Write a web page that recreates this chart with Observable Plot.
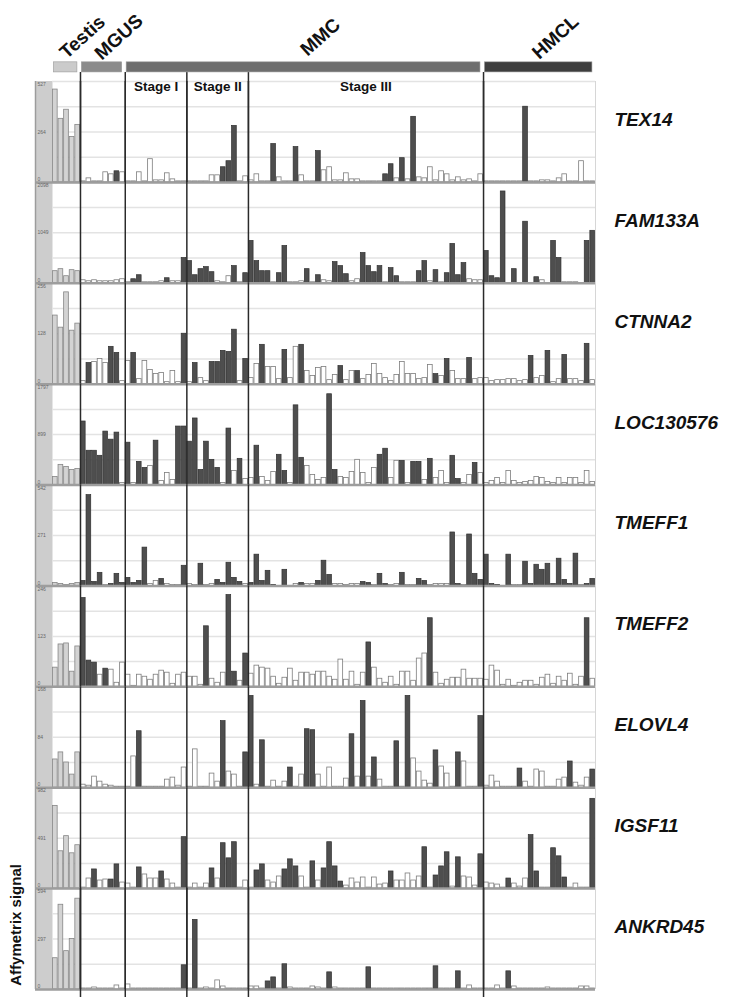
<!DOCTYPE html>
<html><head><meta charset="utf-8">
<script src="https://cdn.jsdelivr.net/npm/d3@7"></script>
<script src="https://cdn.jsdelivr.net/npm/@observablehq/plot@0.6"></script>
<style>body{margin:0;background:#fff;} svg{display:block}</style>
</head><body><div id="chart"></div>
<script>
// ---------- data ----------
const genes = ["TEX14","FAM133A","CTNNA2","LOC130576","TMEFF1","TMEFF2","ELOVL4","IGSF11","ANKRD45"];
const maxSignal = [527, 2098, 256, 1797, 542, 246, 168, 982, 594];
const groupNames = ["Testis","MGUS","Stage I","Stage II","Stage III","HMCL"];
const groupSizes = [5, 8, 11, 11, 42, 20];
const headerNames = ["Testis","MGUS","MMC","HMCL"];
const headerOfGroup = [0, 1, 2, 2, 2, 3];
const stageNames = ["Stage I","Stage II","Stage III"];

// signal of each sample, in % of the panel's maximum signal
const tex14 = [92,63,72,45,57, 1,4,1,1,10,8,11,10, 1,1,10,1,23,2,2,9,3,1,1, 1,1,1,1,7,7,15,21,56,1,6,
  2,8,1,1,38,5,1,1,35,7,1,1,31,12,15,2,2,9,3,3,1,1,1,1, 8,18,4,24,3,65,5,4,15,2,11,8,2,5,2,3,1,8,
  1,1,1,1,1,1,1,75,1,1,2,2,1,4,8,1,1,21,1,1];
const fam133a = [12,14,7,13,12, 3,2,3,2,2,2,3,4, 1,4,8,1,1,1,2,5,2,2,25, 22,8,14,16,11,2,1,7,17,1,10,
  42,22,12,12,1,10,37,1,1,2,14,1,8,3,2,21,17,9,2,4,30,17,11,17, 1,15,7,1,1,1,12,22,2,13,1,10,39,8,20,4,3,3,
  32,7,5,91,0,14,0,61,0,6,3,0,42,25,1,1,1,0,42,52];
const ctnna2 = [68,56,91,53,60, 3,21,22,25,21,37,31,3, 23,31,5,23,14,10,11,2,13,2,50, 2,21,6,3,22,22,33,32,54,3,25,
  6,20,39,17,17,5,34,6,37,39,13,8,16,17,4,9,18,4,13,13,5,9,20,10, 6,3,9,22,10,10,5,6,19,10,8,25,13,5,5,26,5,6,
  6,3,4,4,5,5,3,4,28,6,8,33,2,5,29,5,5,3,40,4];
const loc130576 = [8,20,18,15,16, 63,34,34,29,53,45,52,2, 42,2,23,17,19,44,4,12,5,58,58, 43,66,15,43,25,17,2,56,14,26,6,
  7,39,8,4,13,30,14,2,79,27,19,10,5,7,90,15,8,7,13,25,12,2,17,30, 36,7,24,24,2,23,23,5,26,7,14,2,29,6,2,10,22,12,
  2,4,7,2,14,4,2,3,4,8,7,3,2,7,2,7,7,2,14,3];
const tmeff1 = [3,2,1,2,3, 5,90,4,13,1,2,12,3, 8,3,5,38,2,5,7,2,1,1,20, 2,1,22,1,2,6,3,23,8,4,2,
  3,31,5,15,1,0,16,0,2,3,2,2,5,25,11,2,2,1,2,2,4,3,1,12, 2,1,2,13,1,1,7,5,1,2,2,2,53,2,1,51,12,6,
  31,2,1,0,31,1,1,24,2,21,16,22,2,27,6,2,32,1,2,7];
const tmeff2 = [19,42,43,15,40, 88,26,24,12,18,17,4,24, 12,1,12,10,7,12,16,14,3,12,14, 10,10,2,60,8,4,14,91,15,6,33,
  13,21,19,18,10,3,9,18,6,14,14,12,15,15,10,7,27,7,15,2,14,44,19,8, 4,10,2,15,15,6,28,33,68,14,3,7,9,9,17,8,8,8,
  7,21,16,2,7,1,4,6,6,2,9,12,3,10,6,13,2,10,68,8];
const elovl4 = [28,35,25,13,35, 3,2,11,6,3,2,1,1, 1,31,56,1,1,1,1,8,10,2,20, 1,38,1,1,14,6,66,16,13,1,35,
  91,3,47,1,7,1,6,20,1,13,58,57,13,1,20,1,1,9,53,11,86,11,30,8, 1,1,46,1,91,29,16,7,4,37,21,14,1,35,26,1,1,71,
  2,12,6,1,1,1,19,6,1,18,16,1,1,8,10,26,5,2,10,18];
const igsf11 = [82,37,52,35,43, 1,10,19,8,9,9,24,6, 5,1,21,14,10,10,17,9,5,1,51, 1,5,1,5,20,10,45,30,46,1,8,
  1,18,24,8,6,12,19,29,22,12,1,27,8,20,46,22,7,3,10,6,11,1,11,4, 5,17,8,8,15,8,12,41,1,13,22,36,2,31,12,11,3,34,
  6,5,4,1,10,5,2,10,53,17,1,1,40,32,11,1,5,1,1,89];
const ankrd45 = [31,84,38,50,90, 1,1,2,1,1,1,4,1, 5,1,1,1,1,1,1,1,1,1,24, 1,69,1,2,1,9,3,1,1,1,1,
  3,3,1,8,12,1,25,2,1,1,1,3,2,1,17,2,1,1,1,1,1,22,1,1, 1,1,1,1,1,1,1,1,1,23,1,1,1,18,1,4,1,1,
  1,1,4,1,18,3,1,1,1,1,1,2,1,1,1,1,1,3,3,1];

// samples called "present" (dark bars), by sample index
const tex14Present = [11,30,31,32,39,43,47,59,60,62,64,84];
const fam133aPresent = [14,15,20,23,24,25,26,27,28,32,34,35,36,37,38,40,41,45,47,50,51,52,55,56,57,58,60,61,65,66,68,70,71,72,73,77,78,79,80,82,84,86,89,90,95,96];
const ctnna2Present = [6,10,11,14,23,25,28,29,30,31,32,34,37,41,44,51,54,68,70,74,85,88,91,95];
const loc130576Present = [5,6,7,8,9,10,11,13,15,16,18,22,23,24,25,26,27,28,29,31,33,36,40,41,43,44,49,50,58,59,62,64,65,67,71,72,75];
const tmeff1Present = [5,6,7,8,10,11,12,13,14,15,16,19,23,26,29,30,31,32,33,35,36,37,38,39,41,44,47,48,49,55,56,58,59,62,65,66,71,72,74,75,76,77,78,79,81,84,85,86,87,88,89,90,91,92,93,95,96];
const tmeff2Present = [5,6,7,9,27,31,32,34,56,67,95];
const elovl4Present = [15,30,34,35,37,42,45,46,53,55,57,61,63,68,72,76,83,92,96];
const igsf11Present = [7,10,11,15,19,23,28,30,31,32,36,37,41,42,43,46,48,49,50,51,60,66,68,69,70,72,76,81,85,86,89,90,91,96];
const ankrd45Present = [23,25,38,39,41,49,56,68,72,81];

// ---------- build ----------
const geneValues = [tex14,fam133a,ctnna2,loc130576,tmeff1,tmeff2,elovl4,igsf11,ankrd45];
const genePresent = [tex14Present,fam133aPresent,ctnna2Present,loc130576Present,tmeff1Present,tmeff2Present,elovl4Present,igsf11Present,ankrd45Present];
const sampleGroup = groupSizes.flatMap((n, g) => Array(n).fill(g));
const groupStart = groupSizes.map((_, g) => d3.sum(groupSizes.slice(0, g)));
const groupEnd = groupStart.map((s, g) => s + groupSizes[g]);
const N = d3.sum(groupSizes);
const separators = groupStart.slice(1);
const first = genes[0], last = genes[genes.length - 1];

const rows = genes.flatMap((gene, g) => geneValues[g].map((v, i) => ({
  gene, i, v: v / 100, present: genePresent[g].includes(i), testis: sampleGroup[i] === 0
}))).filter(d => d.v > 0);

const headerFill = ["#cbcbcb", "#8b8b8b", "#6e6e6e", "#3e3e3e"];
const headerRows = headerNames.map((name, h) => {
  const gs = headerOfGroup.map((hh, g) => hh === h ? g : -1).filter(g => g >= 0);
  return {name, h, start: groupStart[gs[0]], end: groupEnd[gs[gs.length - 1]], gene: first};
});
const stageRows = stageNames.map(name => {
  const g = groupNames.indexOf(name);
  return {name, mid: (groupStart[g] + groupEnd[g]) / 2, gene: first};
});
const ticks = genes.map((gene, g) => ({gene, top: String(maxSignal[g]), mid: String(Math.round(maxSignal[g] / 2))}));

const barBase = {x1: "i", x2: d => d.i + 1, y1: 0, y2: "v", fy: "gene", insetLeft: 0.45, insetRight: 0.45};

const chart = Plot.plot({
  width: 734, height: 1008,
  marginTop: 81, marginBottom: 19, marginLeft: 52, marginRight: 139,
  x: {domain: [0, N], axis: null},
  y: {domain: [0, 1], axis: null},
  fy: {domain: genes, axis: null, padding: 0, round: false},
  color: {type: "identity"},
  style: {fontFamily: "Arial, 'Liberation Sans', sans-serif", background: "white", overflow: "visible"},
  marks: [
    // left grey strip holding the signal scale
    Plot.ruleX([0], {dx: -8.5, stroke: "#cdcdcd", strokeWidth: 17}),
    Plot.ruleX([0], {dx: -17, stroke: "#9c9c9c", strokeWidth: 1.5}),
    // gridlines
    Plot.ruleY([0.25, 0.5, 0.75, 1], {x1: 0, x2: N, stroke: "#e3e3e3", strokeWidth: 1.5}),
    Plot.ruleX([N], {stroke: "#d6d6d6", strokeWidth: 1}),
    // bars
    Plot.rect(rows.filter(d => d.testis), {...barBase, fill: "#d3d3d3", stroke: "#868686", strokeWidth: 0.8}),
    Plot.rect(rows.filter(d => !d.testis && !d.present), {...barBase, fill: "white", stroke: "#7d7d7d", strokeWidth: 0.8}),
    Plot.rect(rows.filter(d => !d.testis && d.present), {...barBase, fill: "#4e4e4e", stroke: "#303030", strokeWidth: 0.7}),
    // baseline of each panel
    Plot.ruleY([0], {x1: 0, x2: N, insetLeft: -17, stroke: "#9d9d9d", strokeWidth: 2.5}),
    // group separators
    Plot.ruleX(separators, {stroke: "#2a2a2a", strokeWidth: 1.5}),
    Plot.ruleX(separators, {fy: () => first, insetTop: -9, stroke: "#2a2a2a", strokeWidth: 1.5}),
    Plot.ruleX(separators, {fy: () => last, insetBottom: -8, stroke: "#2a2a2a", strokeWidth: 1.5}),
    // signal tick labels
    Plot.text(ticks, {x: 0, y: 1, dx: -15, dy: 3, fy: "gene", text: "top", textAnchor: "start", fontSize: 5, fill: "#666"}),
    Plot.text(ticks, {x: 0, y: 0.5, dx: -15, fy: "gene", text: "mid", textAnchor: "start", fontSize: 5, fill: "#666"}),
    Plot.text(ticks, {x: 0, y: 0, dx: -15, dy: -3, fy: "gene", text: () => "0", textAnchor: "start", fontSize: 5, fill: "#666"}),
    // gene names
    Plot.text(genes, {x: N, y: 0.62, dx: 19, fy: d => d, text: d => d, textAnchor: "start", fontSize: 19, fontWeight: "bold", fontStyle: "italic", fill: "#111"}),
    // y label
    Plot.text([last], {x: 0, y: 0.64, dx: -36, fy: d => d, text: () => "Affymetrix signal", rotate: -90, fontSize: 15, fontWeight: "bold", fill: "#111"}),
    // header bars and labels
    Plot.rect(headerRows, {x1: d => d.start + 0.25, x2: d => d.end - 0.55, y1: 1.09, y2: 1.19, fy: "gene", fill: d => headerFill[d.h], stroke: "#9a9a9a", strokeWidth: 0.6}),
    Plot.text(headerRows, {x: d => (d.start + d.end) / 2, y: 1.44, dx: 16, fy: "gene", text: "name", rotate: -42, fontSize: 19, fontWeight: "bold", fill: "#111"}),
    Plot.text(stageRows, {x: "mid", y: 0.95, fy: "gene", text: "name", fontSize: 13.5, fontWeight: "bold", fill: "#111"})
  ]
});
document.getElementById("chart").appendChild(chart);
</script></body></html>
